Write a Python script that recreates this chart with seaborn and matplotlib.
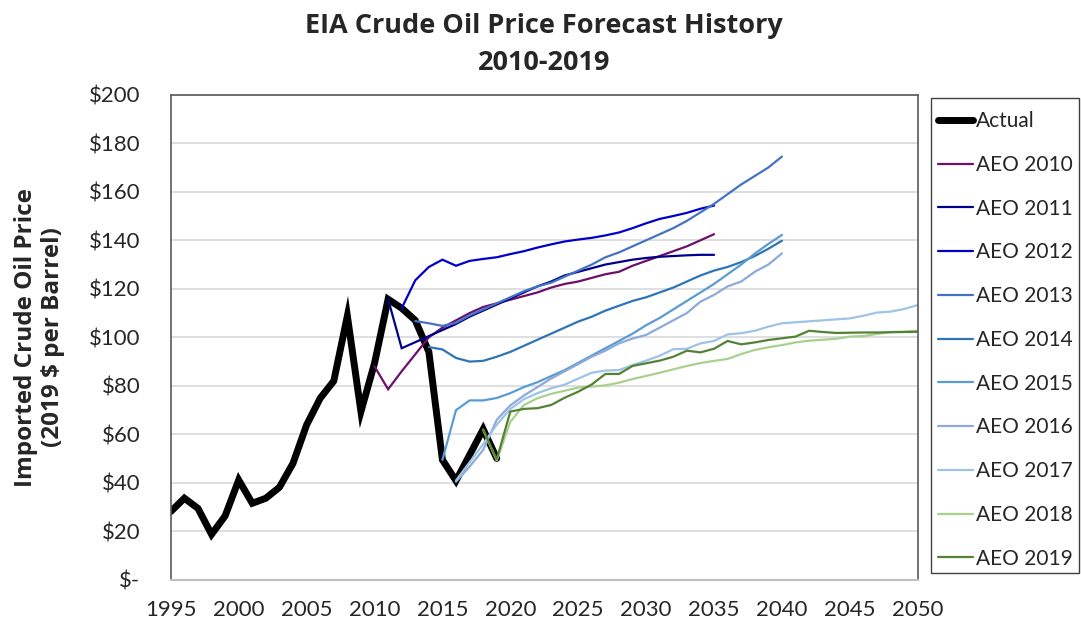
import pandas as pd
import matplotlib.pyplot as plt
import seaborn as sns
from matplotlib.ticker import FuncFormatter
from matplotlib.patches import Rectangle

# data (2019 $ per barrel)
actual_start = 1995
actual = [28.2, 33.7, 29.5, 18.8, 26.4, 41.2, 31.6, 33.7, 38.2, 48.1, 63.9, 74.9, 82.0,
          108.8, 69.4, 89.3, 115.7, 112.0, 107.0, 94.0, 49.5, 40.9, 51.5, 62.1, 50.1]

aeo2010 = [88, 78.6, 86, 93, 100, 104, 107, 110, 112.5, 114, 115.5, 117, 118.5, 120.5,
           122, 123, 124.5, 126, 127, 129.5, 131.5, 133.5, 135.5, 137.5, 140, 142.5]
aeo2011 = [115.7, 95.5, 98, 100.5, 103, 105.5, 108.5, 111, 113.5, 116, 118.5, 121, 123,
           125.5, 127, 128.5, 130, 131, 132, 132.7, 133.2, 133.5, 133.8, 134, 134]
aeo2012 = [112, 123.5, 129, 132, 129.5, 131.5, 132.3, 133, 134.3, 135.5, 137, 138.3, 139.5,
           140.3, 141, 142, 143.2, 145, 147, 148.8, 150, 151.3, 153, 154.3]
aeo2013 = [106.7, 105.8, 104.7, 106, 109, 111.5, 114, 116.5, 119, 121, 122.5, 125, 127.5,
           130, 133, 135, 137.5, 140, 142.5, 145, 148, 151.5, 155, 159, 163, 166.5, 170, 174.5]
aeo2014 = [96, 95, 91.5, 90, 90.3, 92, 94, 96.5, 99, 101.5, 104, 106.5, 108.5, 111, 113,
           115, 116.5, 118.5, 120.5, 123, 125.5, 127.5, 129, 131, 133.5, 136.5, 139.8]
aeo2015 = [49.5, 70, 74, 74, 75, 77, 79.5, 81.5, 84, 86.5, 89.5, 92.5, 95.5, 98.5, 101.5,
           105, 108, 111.5, 115, 118.5, 122, 126, 130, 134.5, 138.5, 142.2]
aeo2016 = [40.5, 46.7, 53.6, 66, 72, 76, 79.5, 83, 86, 89, 92, 94.5, 97.5, 99.5, 101, 104,
           107, 110, 114.7, 117.5, 121, 123, 127, 130, 134.6]
aeo2017 = [41, 48.5, 56, 64, 70.5, 74.5, 77, 79, 80.5, 83, 85.4, 86.3, 86.5, 88.6, 90.4,
           92.4, 95.1, 95.3, 97.5, 98.5, 101.2, 101.7, 102.7, 104.4, 105.8, 106.2, 106.6,
           107, 107.4, 107.8, 108.9, 110.2, 110.6, 111.7, 113.3]
aeo2018 = [61.8, 49.2, 65.2, 72.1, 74.9, 76.7, 78, 79.3, 79.7, 80.2, 81.3, 82.8, 84.1,
           85.4, 86.8, 88.2, 89.4, 90.3, 91.1, 93.1, 94.8, 95.9, 96.8, 97.9, 98.6, 99,
           99.4, 100.3, 100.5, 101.4, 102.2, 102.3, 102.7]
aeo2019 = [62.1, 49.7, 69.4, 70.5, 70.8, 72.1, 75.1, 77.6, 80.6, 84.9, 84.9, 88.2, 89.3,
           90.4, 92, 94.5, 93.8, 95.3, 98.5, 97.1, 97.9, 98.9, 99.6, 100.3, 102.7, 102.2,
           101.8, 101.9, 102, 102, 102.1, 102.2, 102.3]

labels = ['Actual', 'AEO 2010', 'AEO 2011', 'AEO 2012', 'AEO 2013', 'AEO 2014',
          'AEO 2015', 'AEO 2016', 'AEO 2017', 'AEO 2018', 'AEO 2019']
start_years = [actual_start, 2010, 2011, 2012, 2013, 2014, 2015, 2016, 2016, 2018, 2018]
series = [actual, aeo2010, aeo2011, aeo2012, aeo2013, aeo2014, aeo2015, aeo2016,
          aeo2017, aeo2018, aeo2019]
colors = ['#000000', '#6B106B', '#00008B', '#0000CD', '#4472C4', '#2E75B6',
          '#5B9BD5', '#8EA9DB', '#9DC3E6', '#A9D18E', '#548235']

sns.set_style('white')
plt.rcParams['font.family'] = ['Lato', 'DejaVu Sans']
bold_font = ['Open Sans', 'DejaVu Sans']

fig = plt.figure(figsize=(10.81, 6.27), dpi=100)
ax = fig.add_axes([0.158, 0.075, 0.691, 0.774])

for lab, start, vals, col in zip(labels, start_years, series, colors):
    df = pd.DataFrame({'Year': list(range(start, start + len(vals))), 'Price': vals})
    lw = 5 if lab == 'Actual' else 1.6
    sns.lineplot(data=df, x='Year', y='Price', ax=ax, color=col, linewidth=lw,
                 label=lab, solid_joinstyle='miter')

ax.set_xlim(1995, 2050)
ax.set_ylim(0, 200)
ax.set_xticks(range(1995, 2051, 5))
ax.set_yticks(range(0, 201, 20))
ax.yaxis.set_major_formatter(FuncFormatter(lambda v, p: '$-' if v == 0 else f'${v:.0f}'))
ax.grid(axis='y', color='#D9D9D9', linewidth=1.2)
ax.set_axisbelow(True)

ax.tick_params(axis='y', length=0, labelsize=16, pad=22)
ax.tick_params(axis='x', direction='inout', length=11, width=1, color='#BFBFBF',
               labelsize=16, pad=9)

for s in ['left', 'top', 'right']:
    ax.spines[s].set_color('#595959')
    ax.spines[s].set_linewidth(1.2)
ax.spines['bottom'].set_color('#BFBFBF')
ax.spines['bottom'].set_linewidth(1.5)

ax.set_xlabel('')
ax.set_ylabel('Imported Crude Oil Price\n(2019 $ per Barrel)', fontsize=17.5,
              fontweight='bold', family=bold_font, linespacing=1.15)
ax.yaxis.set_label_coords(-0.142, 0.5)

fig.suptitle('EIA Crude Oil Price Forecast History\n2010-2019', x=0.503, y=0.98,
             fontsize=19.5, fontweight='bold', family=bold_font, linespacing=1.55)

# legend box drawn as a plain rectangle, entries placed inside it
fig.patches.append(Rectangle((931 / 1081, 1 - 573 / 627), 148 / 1081, 475 / 627,
                             transform=fig.transFigure, fill=False,
                             edgecolor='#404040', linewidth=1.0))
leg = ax.legend(loc='upper left', bbox_to_anchor=(933 / 1081, 1 - 106 / 627),
                bbox_transform=fig.transFigure, fontsize=15, frameon=False,
                handlelength=1.65, handletextpad=0.15, labelspacing=1.14,
                borderpad=0.25, borderaxespad=0)

fig.savefig('out.png', dpi=100)
